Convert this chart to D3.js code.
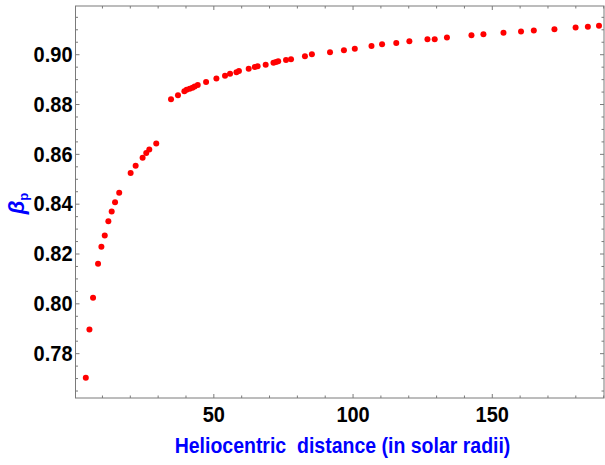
<!DOCTYPE html>
<html><head><meta charset="utf-8">
<script src="https://cdn.jsdelivr.net/npm/d3@7"></script>
<style>
html,body{margin:0;padding:0;background:#fff;}
svg{display:block;}
</style></head>
<body>
<script>
// Data: heliocentric distance (solar radii) and beta_p
const distance = [4.2, 5.5, 6.8, 8.6, 9.8, 11.0, 12.3, 13.5, 14.7, 16.2, 20.3, 22.1, 24.6, 25.9, 27.0, 29.5,
  34.8, 37.3, 39.6, 40.4, 41.5, 42.5, 43.3, 44.4, 47.4, 51.1, 54.2, 56.0, 58.3, 59.2, 62.7, 64.9, 65.9,
  68.8, 71.6, 72.5, 73.3, 76.1, 77.9, 82.9, 85.4, 91.9, 96.9, 100.8, 106.8, 110.6, 115.7, 120.4, 126.9,
  129.5, 133.9, 142.7, 147.0, 154.2, 160.5, 165.1, 172.5, 180.1, 184.5, 188.5];
const betaP = [0.7701, 0.7895, 0.8022, 0.8159, 0.8227, 0.8272, 0.8329, 0.8369, 0.8406, 0.8444, 0.8523, 0.8552, 0.8584, 0.8603, 0.8617, 0.8642,
  0.8819, 0.8835, 0.8851, 0.8857, 0.8861, 0.8865, 0.8870, 0.8876, 0.8888, 0.8902, 0.8914, 0.8922, 0.8928, 0.8933, 0.8942, 0.8949, 0.8952,
  0.8958, 0.8966, 0.8969, 0.8972, 0.8977, 0.8980, 0.8992, 0.9000, 0.9008, 0.9016, 0.9022, 0.9033, 0.9040, 0.9045, 0.9052, 0.9060,
  0.9060, 0.9067, 0.9076, 0.9080, 0.9086, 0.9091, 0.9095, 0.9100, 0.9107, 0.9110, 0.9114];
const xTicks = [50, 100, 150];
const xTickLabels = ["50", "100", "150"];
const yTicks = [0.78, 0.80, 0.82, 0.84, 0.86, 0.88, 0.90];
const yTickLabels = ["0.78", "0.80", "0.82", "0.84", "0.86", "0.88", "0.90"];
const xMinor = [10, 20, 30, 40, 60, 70, 80, 90, 110, 120, 130, 140, 160, 170, 180, 190];
const yMinor = [0.765, 0.77, 0.775, 0.785, 0.79, 0.795, 0.805, 0.81, 0.815, 0.825, 0.83, 0.835, 0.845, 0.85, 0.855, 0.865, 0.87, 0.875, 0.885, 0.89, 0.895, 0.905, 0.91, 0.915];
const xTitle = "Heliocentric\u00a0\u00a0distance (in solar radii)";

const W = 605, H = 465;
const L = 75.5, R = 604, T = 6, B = 398;
const svg = d3.select("body").append("svg").attr("width", W).attr("height", H);

const x = d3.scaleLinear().domain([0.5, 190.3]).range([L, R]);
const y = d3.scaleLinear().domain([0.762, 0.91935]).range([B, T]);

const frameColor = "#7a7a7a";
const font = "'Liberation Sans', Arial, sans-serif";

function styleAxis(g) {
  g.select(".domain").remove();
  g.selectAll("line").attr("stroke", frameColor).attr("stroke-width", 1);
}

// major + minor ticks, all sides, inward
const axes = [
  {gen: d3.axisBottom(x).tickValues(xTicks).tickFormat((d,i)=>xTickLabels[i]), tr: `translate(0,${B})`, size: -4, labels: true, kind: "b"},
  {gen: d3.axisBottom(x).tickValues(xMinor).tickFormat(""), tr: `translate(0,${B})`, size: -2.5},
  {gen: d3.axisTop(x).tickValues(xTicks).tickFormat(""), tr: `translate(0,${T})`, size: -4},
  {gen: d3.axisTop(x).tickValues(xMinor).tickFormat(""), tr: `translate(0,${T})`, size: -2.5},
  {gen: d3.axisLeft(y).tickValues(yTicks).tickFormat((d,i)=>yTickLabels[i]), tr: `translate(${L},0)`, size: -4, labels: true, kind: "l"},
  {gen: d3.axisLeft(y).tickValues(yMinor).tickFormat(""), tr: `translate(${L},0)`, size: -2.5},
  {gen: d3.axisRight(y).tickValues(yTicks).tickFormat(""), tr: `translate(${R},0)`, size: -4},
  {gen: d3.axisRight(y).tickValues(yMinor).tickFormat(""), tr: `translate(${R},0)`, size: -2.5},
];
axes.forEach(a => {
  const g = svg.append("g").attr("transform", a.tr).call(a.gen.tickSize(a.size).tickPadding(3));
  styleAxis(g);
  if (a.labels) {
    g.selectAll("text").attr("fill", "#000").attr("font-family", font)
      .attr("font-weight", "bold").attr("font-size", 20);
    if (a.kind === "b") {
      g.selectAll("text").attr("y", null).attr("dy", null)
        .attr("transform", "translate(0,24.3) scale(1,1.1)");
    } else {
      g.selectAll("text").attr("x", null).attr("dy", null)
        .attr("transform", "translate(-3,7.3) scale(1,1.1)");
    }
  } else {
    g.selectAll("text").remove();
  }
});

// frame
svg.append("rect").attr("x", L).attr("y", T).attr("width", R - L).attr("height", B - T)
  .attr("fill", "none").attr("stroke", frameColor).attr("stroke-width", 1);

// points
svg.append("g").selectAll("circle").data(distance).join("circle")
  .attr("cx", d => x(d)).attr("cy", (d, i) => y(betaP[i])).attr("r", 3).attr("fill", "#ff0000");

// x title
svg.append("text").attr("transform", "translate(342.5,452.7) scale(1,1.1)")
  .attr("text-anchor", "middle").attr("font-family", font).attr("font-weight", "bold")
  .attr("font-size", 19.5).attr("fill", "#0000ff").text(xTitle);

// y title
const yt = svg.append("text").attr("transform", "translate(24,203.5) rotate(-90)")
  .attr("text-anchor", "middle").attr("font-family", font).attr("font-weight", "bold")
  .attr("fill", "#0000ff").attr("font-size", 22);
yt.append("tspan").attr("font-style", "italic").text("β");
yt.append("tspan").attr("font-size", 13).attr("dy", 4).text("p");
</script>
</body></html>
